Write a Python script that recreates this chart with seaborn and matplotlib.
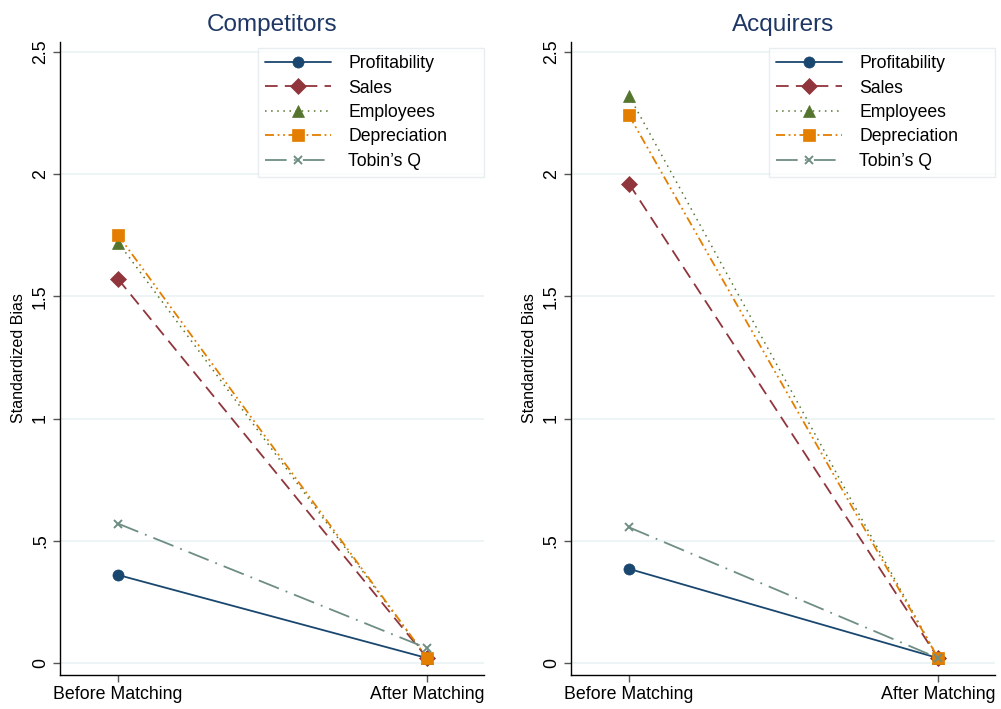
import numpy as np
import pandas as pd
import seaborn as sns
import matplotlib.pyplot as plt

# data
stages = ['Before Matching', 'After Matching']
variables = ['Profitability', 'Sales', 'Employees', 'Depreciation', "Tobin’s Q"]

competitors_before = [0.36, 1.57, 1.72, 1.75, 0.57]
competitors_after = [0.02, 0.02, 0.02, 0.02, 0.06]
acquirers_before = [0.385, 1.96, 2.32, 2.24, 0.555]
acquirers_after = [0.02, 0.02, 0.02, 0.02, 0.02]

yticks = [0, 0.5, 1, 1.5, 2, 2.5]
ytick_labels = ['0', '.5', '1', '1.5', '2', '2.5']

colors = ['#1a476f', '#90353b', '#55752f', '#e37e00', '#6e8e84']
markers = ['o', 'D', '^', 's', 'x']
dashes = ['-', (0, (7, 4)), (0, (1, 3)), (0, (5, 2, 1, 2, 1, 2)), (0, (12, 4, 1, 4))]
msizes = [8, 8, 8.5, 8, 5.5]

sns.set_theme(style='white')
plt.rcParams['font.family'] = ['Liberation Sans', 'DejaVu Sans']
plt.rcParams['text.color'] = 'black'
plt.rcParams['axes.labelcolor'] = 'black'
plt.rcParams['xtick.color'] = 'black'
plt.rcParams['ytick.color'] = 'black'

fig = plt.figure(figsize=(10.01, 7.09), dpi=100)
ax1 = fig.add_axes([0.060, 0.048, 0.4236, 0.893])
ax2 = fig.add_axes([0.5704, 0.048, 0.4236, 0.893])

panels = [(ax1, 'Competitors', competitors_before, competitors_after),
          (ax2, 'Acquirers', acquirers_before, acquirers_after)]

for ax, title, before, after in panels:
    df = pd.DataFrame({
        'variable': variables * 2,
        'x': [0] * len(variables) + [1] * len(variables),
        'bias': before + after,
    })
    for i, var in enumerate(variables):
        sub = df[df['variable'] == var]
        sns.lineplot(data=sub, x='x', y='bias', ax=ax, color=colors[i],
                     linestyle=dashes[i], linewidth=1.3 if i != 2 else 1.1,
                     marker=markers[i], markersize=msizes[i],
                     markeredgecolor=colors[i], markeredgewidth=1.4 if i == 4 else 0.5,
                     label=var)

    ax.set_xlim(-0.188, 1.184)
    ax.set_ylim(-0.049, 2.541)
    ax.set_xticks([0, 1])
    ax.set_xticklabels(stages, fontsize=12.8)
    ax.set_yticks(yticks)
    ax.set_yticklabels(ytick_labels, fontsize=12.8, rotation=90, va='center')
    ax.set_xlabel('')
    ax.set_ylabel('Standardized Bias', fontsize=11.5)
    ax.set_title(title, fontsize=17.5, color='#1e3765', pad=8)

    ax.grid(axis='y', color='#eaf2f3', linewidth=1.2)
    ax.set_axisbelow(True)
    for side in ['top', 'right']:
        ax.spines[side].set_visible(False)
    for side in ['left', 'bottom']:
        ax.spines[side].set_color('black')
        ax.spines[side].set_linewidth(1.0)
    ax.tick_params(axis='both', which='both', length=5, width=1, color='#555555',
                   direction='out', left=True, bottom=True, pad=3)

    leg = ax.legend(loc='upper left', bbox_to_anchor=(0.467, 0.9905, 0.533, 0.0),
                    mode='expand', fontsize=12.7, frameon=True, fancybox=False,
                    handlelength=3.7, borderpad=0.42, labelspacing=0.42,
                    handletextpad=1.0, borderaxespad=0.0)
    leg.get_frame().set_edgecolor('#e3eaec')
    leg.get_frame().set_linewidth(1.0)

fig.savefig('out.png', dpi=100)
